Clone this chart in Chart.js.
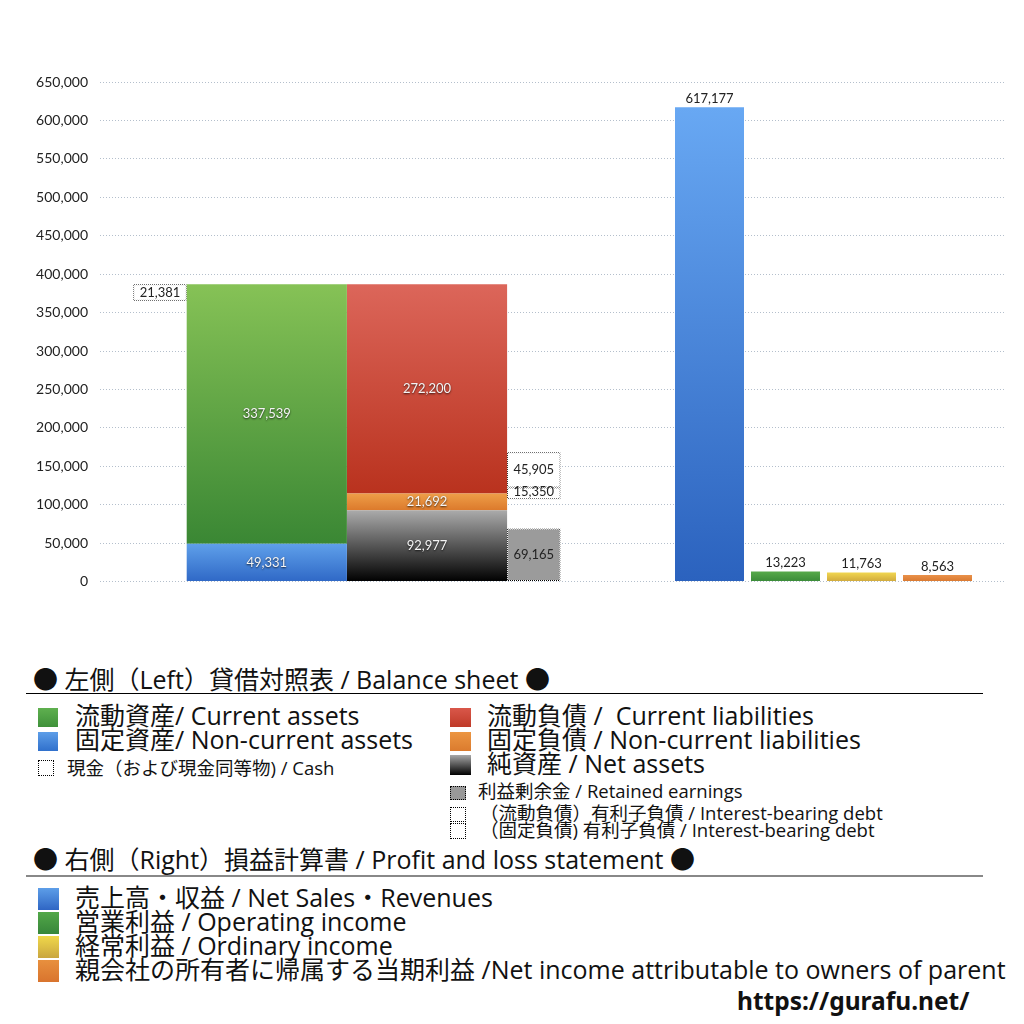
<!DOCTYPE html>
<html><head><meta charset="utf-8">
<script src="https://cdn.jsdelivr.net/npm/chart.js@4.4.1/dist/chart.umd.min.js"></script>
<style>
html,body{margin:0;padding:0;background:#fff;}
#wrap{position:relative;width:1024px;height:1024px;overflow:hidden;background:#fff;}
#chartBox{position:absolute;left:0;top:0;width:1024px;height:602px;}
.t{position:absolute;white-space:pre;font-family:"Open Sans","Noto Sans CJK JP",sans-serif;color:#111;line-height:1;}
.big{font-size:25px;}
.small{font-size:18.5px;}
.sw{position:absolute;}
.dot{position:absolute;box-sizing:border-box;border:1px dotted #000;background:#fff;}
.hr{position:absolute;}
.cj{font-family:"Noto Sans CJK JP",sans-serif;}
</style></head>
<body><div id="wrap">
<div id="chartBox"><canvas id="c" width="1024" height="602"></canvas></div>

<div class="t big" style="left:33px;top:666px;"><span class="cj">●</span> 左側（Left）貸借対照表 / Balance sheet <span class="cj">●</span></div>
<div class="hr" style="left:26px;top:693px;width:957px;height:1px;background:#000;"></div>

<div class="sw" style="left:38px;top:708px;width:20px;height:19px;background:linear-gradient(#5fb04f,#3f913a);"></div>
<div class="t big" style="left:75px;top:703px;">流動資産/ Current assets</div>
<div class="sw" style="left:38px;top:732px;width:20px;height:19px;background:linear-gradient(#5d9ee8,#3070cc);"></div>
<div class="t big" style="left:75px;top:727px;">固定資産/ Non-current assets</div>
<div class="dot" style="left:38px;top:760px;width:16px;height:16px;"></div>
<div class="t small" style="left:67px;top:759px;">現金（および現金同等物) / Cash</div>

<div class="sw" style="left:450px;top:708px;width:21px;height:19px;background:linear-gradient(#d9574a,#bf3a28);"></div>
<div class="t big" style="left:487px;top:703px;">流動負債 /  Current liabilities</div>
<div class="sw" style="left:450px;top:732px;width:21px;height:19px;background:linear-gradient(#ec9642,#db7b2e);"></div>
<div class="t big" style="left:487px;top:727px;">固定負債 / Non-current liabilities</div>
<div class="sw" style="left:450px;top:755px;width:21px;height:20px;background:linear-gradient(#a8a8a8,#000);"></div>
<div class="t big" style="left:487px;top:751px;">純資産 / Net assets</div>
<div class="dot" style="left:450px;top:786px;width:16px;height:14px;background:#999;"></div>
<div class="t small" style="left:478px;top:782px;">利益剰余金 / Retained earnings</div>
<div class="dot" style="left:450px;top:807px;width:16px;height:15px;"></div>
<div class="t small" style="left:480px;top:804px;">（流動負債）有利子負債 / Interest-bearing debt</div>
<div class="dot" style="left:450px;top:823px;width:16px;height:16px;"></div>
<div class="t small" style="left:480px;top:821px;">（固定負債) 有利子負債 / Interest-bearing debt</div>

<div class="t big" style="left:33px;top:846px;"><span class="cj">●</span> 右側（Right）損益計算書 / Profit and loss statement <span class="cj">●</span></div>
<div class="hr" style="left:26px;top:875px;width:957px;height:2px;background:#888;"></div>

<div class="sw" style="left:38px;top:888px;width:21px;height:22px;background:linear-gradient(#5d9ee8,#2f66c4);"></div>
<div class="t big" style="left:75px;top:885px;">売上高・収益 / Net Sales・Revenues</div>
<div class="sw" style="left:38px;top:912px;width:21px;height:22px;background:linear-gradient(#52a848,#37863a);"></div>
<div class="t big" style="left:75px;top:909px;">営業利益 / Operating income</div>
<div class="sw" style="left:38px;top:936px;width:21px;height:22px;background:linear-gradient(#f0d84a,#c9a640);"></div>
<div class="t big" style="left:75px;top:933px;">経常利益 / Ordinary income</div>
<div class="sw" style="left:38px;top:960px;width:21px;height:22px;background:linear-gradient(#e8903e,#d9742e);"></div>
<div class="t big" style="left:75px;top:957px;">親会社の所有者に帰属する当期利益 /Net income attributable to owners of parent</div>

<div class="t" style="left:737px;top:989px;font-size:24.5px;font-weight:bold;font-family:'Noto Sans','Liberation Sans',sans-serif;">https://gurafu.net/</div>
</div>
<script>
// ---- data ----
const bsCategories = ['現金', '資産', '負債・純資産', '利益剰余金・有利子負債'];
const assetItems = ['固定資産', '流動資産'];
const assetValues = [49331, 337539];
const liabilityItems = ['純資産', '固定負債', '流動負債'];
const liabilityValues = [92977, 21692, 272200];
const cashValues = [21381];
const retainedValues = [69165];
const debtItems = ['（固定負債）有利子負債', '（流動負債）有利子負債'];
const debtValues = [15350, 45905];
const plCategories = ['売上高・収益', '営業利益', '経常利益', '親会社の所有者に帰属する当期利益'];
const plValues = [617177, 13223, 11763, 8563];
const yTickValues = [0, 50000, 100000, 150000, 200000, 250000, 300000, 350000, 400000, 450000, 500000, 550000, 600000, 650000];

// ---- styles / layout ----
const bsSlot = [0, 2, 5, 7]; // slot order of bsCategories on the hidden balance-sheet axis
const assetColors = [['#5fa0ea', '#2f68c6'], ['#86c256', '#3a8734']];
const liabilityColors = [['#ababab', '#000000'], ['#ee9e48', '#dc7a2c'], ['#dc665a', '#b9321e']];
const plColors = [['#68a8f3', '#2b62be'], ['#57aa4a', '#3a8a38'], ['#f1d650', '#cfa83c'], ['#e9914a', '#d9782f']];
const fmt = v => Math.round(v).toLocaleString('en-US');

const cv = document.getElementById('c');
const ctx2d = cv.getContext('2d');
function dotPattern() {
  const p = document.createElement('canvas'); p.width = 2; p.height = 2;
  const x = p.getContext('2d'); x.fillStyle = '#000';
  x.fillRect(0, 0, 1, 1); x.fillRect(1, 1, 1, 1);
  return ctx2d.createPattern(p, 'repeat');
}
const dotted = dotPattern();

function barSpan(chart, dsIndex, dataIndex) {
  const ds = chart.data.datasets[dsIndex];
  const raw = ds.data[dataIndex];
  if (Array.isArray(raw.y)) return raw.y;
  let base = 0;
  for (let i = 0; i < dsIndex; i++) {
    const o = chart.data.datasets[i];
    if (o.stack === ds.stack && o.xAxisID === ds.xAxisID) {
      const r = o.data.find(d => d.x === raw.x);
      if (r && !Array.isArray(r.y)) base += r.y;
    }
  }
  return [base, base + raw.y];
}
function vGrad(stopsFor) {
  return (c) => {
    const stops = stopsFor(c.dataIndex || 0);
    if (c.type !== 'data') return stops[0];
    const y = c.chart.scales.y;
    const [a, b] = barSpan(c.chart, c.datasetIndex, c.dataIndex);
    const top = y.getPixelForValue(b), bot = y.getPixelForValue(a);
    if (!isFinite(top) || !isFinite(bot) || top === bot) return stops[0];
    const g = c.chart.ctx.createLinearGradient(0, top, 0, bot);
    g.addColorStop(0, stops[0]); g.addColorStop(1, stops[1]);
    return g;
  };
}

const assetTotal = assetValues.reduce((a, b) => a + b, 0);
const ncLiabTop = liabilityValues[0] + liabilityValues[1];

const datasets = [];
assetItems.forEach((name, i) => datasets.push({
  label: name, xAxisID: 'xb', stack: 'assets', barPercentage: 1.5,
  data: [{ x: bsSlot[1], y: assetValues[i] }],
  backgroundColor: vGrad(() => assetColors[i]), labelStyle: 'light'
}));
liabilityItems.forEach((name, i) => datasets.push({
  label: name, xAxisID: 'xb', stack: 'liab', barPercentage: 1.5,
  data: [{ x: bsSlot[2], y: liabilityValues[i] }],
  backgroundColor: vGrad(() => liabilityColors[i]), labelStyle: 'light'
}));
datasets.push({
  label: '利益剰余金', xAxisID: 'xb', stack: 'ret', barPercentage: 0.5,
  data: [{ x: bsSlot[3], y: retainedValues[0] }],
  backgroundColor: '#9b9b9b', borderColor: dotted, borderWidth: 1, borderSkipped: false, labelStyle: 'dark'
});
datasets.push({
  label: '現金', xAxisID: 'xb', stack: 'cash', barPercentage: 0.5,
  data: [{ x: bsSlot[0], y: [assetTotal - cashValues[0], assetTotal] }],
  backgroundColor: '#ffffff', borderColor: dotted, borderWidth: 1, borderSkipped: false, labelStyle: 'dark'
});
const debtLow = ncLiabTop - debtValues[0] / 2;
datasets.push({
  label: debtItems[0], xAxisID: 'xb', stack: 'debtNC', barPercentage: 0.5,
  data: [{ x: bsSlot[3], y: [debtLow, debtLow + debtValues[0]] }],
  backgroundColor: '#ffffff', borderColor: dotted, borderWidth: 1, borderSkipped: false, labelStyle: 'dark', labelShift: -2
});
datasets.push({
  label: debtItems[1], xAxisID: 'xb', stack: 'debtC', barPercentage: 0.5,
  data: [{ x: bsSlot[3], y: [debtLow + debtValues[0], debtLow + debtValues[0] + debtValues[1]] }],
  backgroundColor: '#ffffff', borderColor: dotted, borderWidth: 1, borderSkipped: false, labelStyle: 'dark'
});
datasets.push({
  label: '損益計算書', xAxisID: 'xp', stack: 'pl', barPercentage: 69 / 76,
  data: plValues.map((v, i) => ({ x: i, y: v })),
  backgroundColor: vGrad(i => plColors[i]), labelStyle: 'above'
});
datasets.forEach(d => { d.grouped = false; d.categoryPercentage = 1; if (d.borderWidth === undefined) d.borderWidth = 0; });

const labelPlugin = {
  id: 'valueLabels',
  afterDatasetsDraw(chart) {
    const ctx = chart.ctx;
    chart.data.datasets.forEach((ds, i) => {
      const meta = chart.getDatasetMeta(i);
      meta.data.forEach((el, j) => {
        const raw = ds.data[j].y;
        const v = Array.isArray(raw) ? raw[1] - raw[0] : raw;
        const text = fmt(v);
        ctx.save();
        ctx.font = '13px Lato, "Noto Sans", sans-serif';
        ctx.textAlign = 'center';
        if (ds.labelStyle === 'above') {
          ctx.fillStyle = '#222';
          ctx.textBaseline = 'bottom';
          ctx.fillText(text, el.x, el.y - 2);
        } else {
          const cy = (el.y + el.base) / 2 + (ds.labelShift || 0);
          ctx.textBaseline = 'middle';
          if (ds.labelStyle === 'light') {
            ctx.shadowColor = 'rgba(0,0,0,0.75)';
            ctx.shadowBlur = 2; ctx.shadowOffsetX = 0; ctx.shadowOffsetY = 1;
            ctx.fillStyle = '#f4f4f4';
          } else {
            ctx.fillStyle = '#222';
          }
          ctx.fillText(text, el.x, cy);
        }
        ctx.restore();
      });
    });
  }
};

const PLOT_W = 906;
new Chart(cv, {
  type: 'bar',
  data: { datasets },
  options: {
    responsive: false, animation: false,
    layout: { padding: { left: 0, right: 18, top: 82, bottom: 0 } },
    plugins: { legend: { display: false }, tooltip: { enabled: false } },
    events: [],
    scales: {
      xb: {
        type: 'linear', display: false, axis: 'x', position: 'bottom',
        min: -60 / 53.4, max: -60 / 53.4 + PLOT_W / 53.4,
        afterBuildTicks: a => { a.ticks = []; }
      },
      xp: {
        type: 'linear', display: false, axis: 'x', position: 'bottom',
        min: -609.5 / 76, max: -609.5 / 76 + PLOT_W / 76,
        afterBuildTicks: a => { a.ticks = []; }
      },
      y: {
        stacked: true, min: 0, max: yTickValues[yTickValues.length - 1],
        afterFit: s => { s.width = 100; },
        afterBuildTicks: a => { a.ticks = yTickValues.map(v => ({ value: v })); },
        ticks: { padding: 12, color: '#222', font: { family: 'Lato, "Noto Sans", sans-serif', size: 14 }, callback: v => fmt(v) },
        grid: { color: '#b4bfcc', lineWidth: 1, drawTicks: false },
        border: { display: false, dash: [1, 2] }
      }
    }
  },
  plugins: [labelPlugin]
});
</script>
</body></html>
